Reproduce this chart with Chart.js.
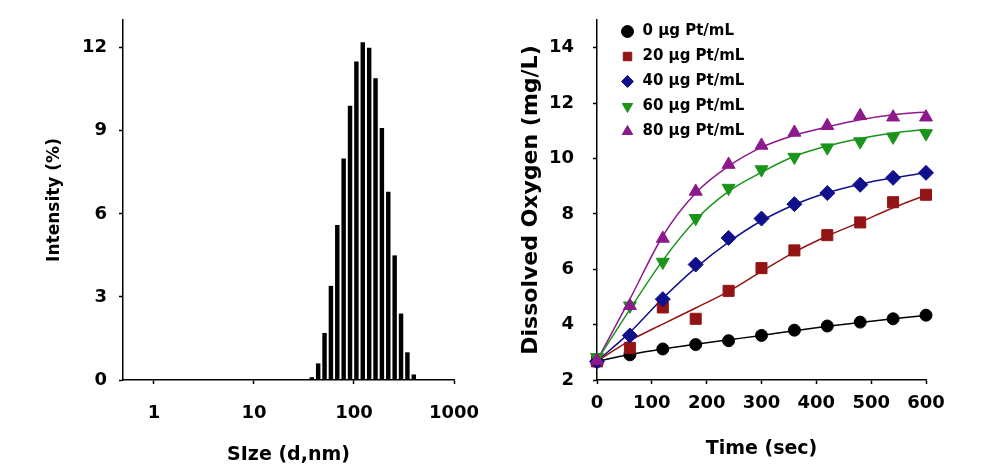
<!DOCTYPE html>
<html lang="en">
<head>
<meta charset="UTF-8">
<title>Size distribution and dissolved oxygen</title>
<style>
  body { margin: 0; background: #fff; }
  .wrap { position: relative; width: 982px; height: 473px; }
  #sizeChart { position: absolute; left: 0; top: 0; }
  #oxygenChart { position: absolute; left: 490px; top: 0; }
</style>
</head>
<body>
<div class="wrap">
  <canvas id="sizeChart" width="490" height="473"></canvas>
  <canvas id="oxygenChart" width="492" height="473"></canvas>
</div>
<script src="https://cdn.jsdelivr.net/npm/chart.js@4.4.0/dist/chart.umd.min.js"></script>
<script>
// left panel: size distribution (intensity per size bin)
const sizeBins = [37.84, 43.82, 50.75, 58.77, 68.06, 78.82, 91.28, 105.7, 122.4, 141.8, 164.2, 190.1, 220.2, 255.0, 295.3, 342.0, 396.1];
const intensity = [0.1, 0.6, 1.7, 3.4, 5.6, 8.0, 9.9, 11.5, 12.2, 12.0, 10.9, 9.1, 6.8, 4.5, 2.4, 1.0, 0.2];
const sizeTicks = [1, 10, 100, 1000];
const sizeTickLabels = ['1', '10', '100', '1000'];
const intensityTicks = [0, 3, 6, 9, 12];

// right panel: dissolved oxygen over time
const times = [0, 60, 120, 180, 240, 300, 360, 420, 480, 540, 600];
const doLabels = ['0 μg Pt/mL', '20 μg Pt/mL', '40 μg Pt/mL', '60 μg Pt/mL', '80 μg Pt/mL'];
const do0  = [2.67, 2.91, 3.12, 3.28, 3.42, 3.61, 3.80, 3.95, 4.09, 4.21, 4.34];
const do20 = [2.67, 3.16, 4.62, 4.21, 5.22, 6.04, 6.68, 7.23, 7.69, 8.42, 8.69];
const do40 = [2.67, 3.61, 4.92, 6.17, 7.13, 7.83, 8.35, 8.75, 9.05, 9.30, 9.48];
const do60 = [2.82, 4.68, 6.26, 7.84, 8.93, 9.60, 10.05, 10.39, 10.61, 10.78, 10.90];
const do80 = [2.70, 4.68, 7.11, 8.81, 9.78, 10.47, 10.94, 11.18, 11.54, 11.49, 11.49];
// fitted curves, read at the same times
const fit0  = [2.68, 2.92, 3.12, 3.29, 3.45, 3.61, 3.78, 3.94, 4.08, 4.21, 4.33];
const fit20 = [2.68, 3.42, 4.02, 4.60, 5.20, 5.92, 6.62, 7.20, 7.70, 8.22, 8.68];
const fit40 = [2.68, 3.72, 4.95, 6.05, 6.98, 7.75, 8.33, 8.76, 9.07, 9.30, 9.48];
const fit60 = [2.70, 4.55, 6.32, 7.78, 8.81, 9.50, 10.08, 10.45, 10.72, 10.92, 11.05];
const fit80 = [2.70, 4.92, 7.20, 8.75, 9.72, 10.40, 10.84, 11.14, 11.40, 11.58, 11.68];
const timeTicks = [0, 100, 200, 300, 400, 500, 600];
const oxygenTicks = [2, 4, 6, 8, 10, 12, 14];

Chart.defaults.font.family = "'DejaVu Sans', sans-serif";
Chart.defaults.font.weight = 'bold';
Chart.defaults.font.size = 18;
Chart.defaults.color = '#000';
Chart.defaults.animation = false;

const axisLine = { display: true, color: '#000', width: 1.5 };
const tickMarks = { drawOnChartArea: false, offset: false, tickLength: 4, tickColor: '#000', tickWidth: 1.5 };

function fixTicks(values) {
  return scale => { scale.ticks = values.map(v => ({ value: v })); };
}

// fixed axis box size, no extra room asked for the end labels
function fixBox(key, size) {
  return scale => {
    scale[key] = size;
    scale.paddingTop = scale.paddingBottom = scale.paddingLeft = scale.paddingRight = 0;
  };
}

new Chart(document.getElementById('sizeChart'), {
  type: 'bar',
  data: {
    datasets: [{
      data: sizeBins.map((s, i) => ({ x: s, y: intensity[i] })),
      backgroundColor: '#000',
      borderWidth: 0,
      barPercentage: 0.7,
      categoryPercentage: 1
    }]
  },
  options: {
    responsive: false,
    layout: { padding: { top: 20, right: 36, bottom: 0, left: 0 } },
    plugins: { legend: { display: false }, tooltip: { enabled: false } },
    scales: {
      x: {
        type: 'logarithmic',
        min: 0.49, max: 1000,
        offset: false,
        border: axisLine,
        grid: tickMarks,
        afterBuildTicks: fixTicks(sizeTicks),
        afterFit: fixBox('height', 93),
        ticks: { padding: 19, maxRotation: 0, autoSkip: false, callback: (v, i) => sizeTickLabels[i] },
        title: { display: true, text: 'SIze (d,nm)', font: { size: 19 }, padding: { top: 0, bottom: 6.6 } }
      },
      y: {
        min: 0, max: 13,
        border: axisLine,
        grid: tickMarks,
        afterBuildTicks: fixTicks(intensityTicks),
        afterFit: fixBox('width', 123),
        ticks: { padding: 12 },
        title: { display: true, text: 'Intensity (%)', font: { size: 17 }, padding: { top: 44.8, bottom: 0 } }
      }
    }
  }
});

const series = [
  { label: doLabels[0], data: do0, fit: fit0, color: '#000000', style: 'circle', r: 6, rot: 0 },
  { label: doLabels[1], data: do20, fit: fit20, color: '#931414', style: 'rect', r: 7.8, rot: 0 },
  { label: doLabels[2], data: do40, fit: fit40, color: '#10108c', style: 'rectRot', r: 7.5, rot: 0 },
  { label: doLabels[3], data: do60, fit: fit60, color: '#1a941a', style: 'triangle', r: 7.5, rot: 180 },
  { label: doLabels[4], data: do80, fit: fit80, color: '#8c1a8c', style: 'triangle', r: 7.5, rot: 0 }
];

const markerSets = series.map((s, i) => ({
  label: s.label,
  data: times.map((t, k) => ({ x: t, y: s.data[k] })),
  pointStyle: s.style,
  pointRadius: s.r,
  pointRotation: s.rot,
  backgroundColor: s.color,
  borderColor: s.color,
  borderWidth: 1,
  showLine: false,
  clip: false,
  order: 5 - i
}));

const fitSets = series.map(s => ({
  label: s.label + ' fit',
  data: times.map((t, k) => ({ x: t, y: s.fit[k] })),
  showLine: true,
  pointRadius: 0,
  borderColor: s.color,
  borderWidth: 1.5,
  cubicInterpolationMode: 'monotone',
  fill: false,
  clip: false,
  order: 10
}));

// put the legend box where it sits in the figure
const legendSpot = {
  id: 'legendSpot',
  afterLayout(chart) {
    const lg = chart.legend;
    lg.left = 120; lg.top = 14;
    lg.right = lg.left + 260; lg.bottom = lg.top + 200;
  }
};

new Chart(document.getElementById('oxygenChart'), {
  type: 'scatter',
  data: { datasets: markerSets.concat(fitSets) },
  plugins: [legendSpot],
  options: {
    responsive: false,
    layout: { padding: { top: 20, right: 56, bottom: 0, left: 0 } },
    plugins: {
      tooltip: { enabled: false },
      legend: {
        position: 'chartArea',
        align: 'start',
        labels: {
          usePointStyle: true,
          boxHeight: 8.5,
          padding: 10,
          color: '#000',
          font: { size: 15, weight: 'bold' },
          filter: item => item.datasetIndex < 5,
          sort: (a, b) => a.datasetIndex - b.datasetIndex
        }
      }
    },
    scales: {
      x: {
        min: 0, max: 600,
        border: axisLine,
        grid: tickMarks,
        afterBuildTicks: fixTicks(timeTicks),
        afterFit: fixBox('height', 93),
        ticks: { padding: 9, maxRotation: 0, autoSkip: false },
        title: { display: true, text: 'Time (sec)', font: { size: 19 }, padding: { top: 0, bottom: 12.6 } }
      },
      y: {
        min: 2, max: 15,
        border: axisLine,
        grid: tickMarks,
        afterBuildTicks: fixTicks(oxygenTicks),
        afterFit: fixBox('width', 107),
        ticks: { padding: 19 },
        title: { display: true, text: 'Dissolved Oxygen (mg/L)', font: { size: 22 }, padding: { top: 27.8, bottom: 0 } }
      }
    }
  }
});
</script>
</body>
</html>
